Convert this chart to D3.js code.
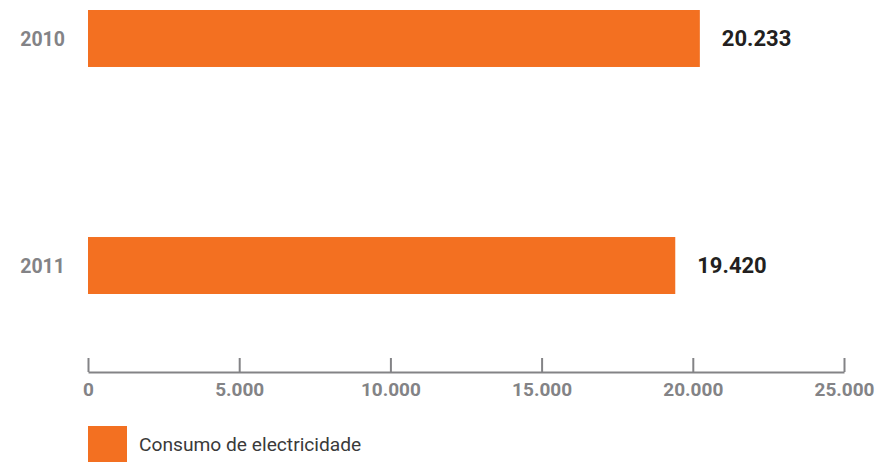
<!DOCTYPE html>
<html>
<head>
<meta charset="utf-8">
<script src="https://cdn.jsdelivr.net/npm/d3@7"></script>
<style>
  html, body { margin: 0; padding: 0; background: #fff; }
  svg { display: block; }
</style>
</head>
<body>
<svg id="chart" width="890" height="462"></svg>
<script>
const years = ["2010", "2011"];
const consumo = [20233, 19420];
const tickValues = [0, 5000, 10000, 15000, 20000, 25000];
const seriesName = "Consumo de electricidade";

const orange = "#F37021";
const grey = "#838386";
const dark = "#231f20";
const fontFam = "Roboto, 'Liberation Sans', sans-serif";

const locale = d3.formatLocale({ decimal: ",", thousands: ".", grouping: [3], currency: ["", ""] });
const fmt = locale.format(",");

const svg = d3.select("#chart");

const x = d3.scaleLinear().domain([0, 25000]).range([88, 844]);
const y = d3.scaleBand().domain(years).range([10, 294]).paddingInner(0.749).paddingOuter(0);

const data = years.map((yr, i) => ({ year: yr, value: consumo[i] }));

// bars
svg.append("g").selectAll("rect").data(data).join("rect")
  .attr("x", x(0))
  .attr("y", d => y(d.year))
  .attr("width", d => x(d.value) - x(0))
  .attr("height", y.bandwidth())
  .attr("fill", orange);

// value labels
svg.append("g").selectAll("text").data(data).join("text")
  .attr("x", d => x(d.value) + 22)
  .attr("y", d => y(d.year) + y.bandwidth() / 2)
  .attr("dy", "0.36em")
  .attr("font-family", fontFam)
  .attr("font-weight", "bold")
  .attr("font-size", 22)
  .attr("fill", dark)
  .text(d => fmt(d.value));

// year labels
svg.append("g").selectAll("text").data(data).join("text")
  .attr("x", 65)
  .attr("y", d => y(d.year) + y.bandwidth() / 2)
  .attr("dy", "0.36em")
  .attr("text-anchor", "end")
  .attr("font-family", fontFam)
  .attr("font-weight", "bold")
  .attr("font-size", 19.5)
  .attr("fill", grey)
  .text(d => d.year);

// x axis
const axis = d3.axisBottom(x)
  .tickValues(tickValues)
  .tickFormat(fmt)
  .tickSizeInner(-14)
  .tickSizeOuter(0)
  .tickPadding(10);

const gAxis = svg.append("g").attr("transform", "translate(0,372)").call(axis);
gAxis.select(".domain").attr("stroke", grey).attr("stroke-width", 2);
gAxis.selectAll(".tick line").attr("stroke", grey).attr("stroke-width", 2);
gAxis.selectAll(".tick text")
  .attr("y", 17)
  .attr("dy", "0.36em")
  .attr("font-family", fontFam)
  .attr("font-weight", "bold")
  .attr("font-size", 19)
  .attr("fill", grey);

// legend
const leg = svg.append("g");
leg.append("rect").attr("x", 88).attr("y", 426).attr("width", 39).attr("height", 36).attr("fill", orange);
leg.append("text")
  .attr("x", 139).attr("y", 444).attr("dy", "0.36em")
  .attr("font-family", fontFam)
  .attr("font-size", 19.2)
  .attr("fill", "#3a3a3a")
  .text(seriesName);
</script>
</body>
</html>
